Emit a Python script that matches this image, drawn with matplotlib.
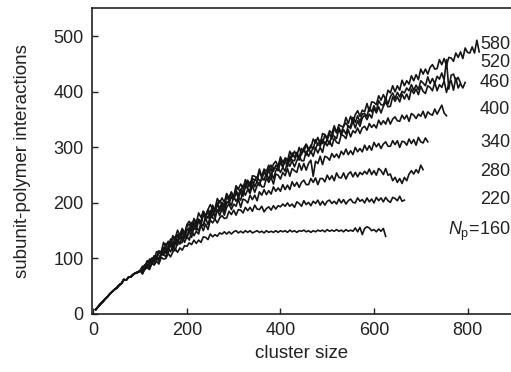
import matplotlib
matplotlib.use("Agg")
import matplotlib.pyplot as plt

plt.rcParams['font.family'] = ['Liberation Sans', 'DejaVu Sans']
plt.rcParams['mathtext.fontset'] = 'custom'
plt.rcParams['mathtext.rm'] = 'Liberation Sans'
plt.rcParams['mathtext.it'] = 'Liberation Sans:italic'

# cluster size grid (step 5)
cluster_size = list(range(5, 830, 5))

# shared initial rise (x = 5 .. 100)
early = [8, 13, 18, 22, 27, 31, 36, 40, 44, 47, 52, 55, 62, 61, 66, 67, 71, 74, 75, 78]

# values for x = 105 onward, per polymer count N_p
np580 = [86, 86, 96, 93, 101, 99, 112, 113, 112, 129,
         120, 131, 124, 140, 137, 151, 141, 154, 145, 161,
         167, 159, 170, 164, 182, 174, 185, 176, 188, 197,
         189, 190, 208, 200, 209, 201, 217, 209, 220, 211,
         231, 225, 234, 226, 242, 234, 232, 249, 248, 244,
         261, 247, 261, 257, 268, 257, 270, 275, 266, 283,
         273, 280, 275, 293, 283, 293, 285, 300, 287, 299,
         306, 298, 299, 315, 308, 318, 306, 325, 323, 317,
         330, 325, 339, 327, 341, 338, 337, 354, 343, 356,
         345, 359, 366, 356, 367, 364, 379, 365, 382, 381,
         377, 393, 385, 395, 386, 403, 398, 411, 400, 411,
         403, 421, 411, 420, 414, 429, 420, 431, 422, 441,
         432, 441, 432, 444, 449, 441, 442, 458, 449, 460,
         447, 462, 461, 455, 470, 462, 472, 460, 479, 471,
         470, 481, 470, 493, 472]
np520 = [80, 89, 85, 99, 97, 105, 102, 113, 111, 109,
         127, 126, 123, 141, 129, 143, 141, 153, 142, 157,
         162, 154, 172, 163, 171, 166, 185, 177, 188, 181,
         196, 184, 197, 204, 197, 198, 215, 208, 218, 207,
         226, 225, 219, 232, 228, 241, 229, 244, 241, 240,
         257, 246, 259, 247, 261, 268, 257, 268, 264, 279,
         264, 281, 279, 274, 290, 282, 291, 281, 298, 292,
         305, 294, 304, 297, 314, 304, 313, 307, 323, 313,
         325, 315, 335, 326, 336, 326, 339, 344, 337, 338,
         354, 345, 357, 345, 360, 361, 356, 372, 364, 375,
         365, 384, 377, 376, 389, 378, 391, 398, 388, 399,
         391, 401, 398, 407, 402, 413, 403, 412, 404, 420,
         416, 411, 427, 415, 424, 415, 428, 423, 434, 421,
         458, 405, 430, 432, 420, 426, 416]
np460 = [85, 80, 93, 95, 92, 102, 102, 113, 107, 120,
         118, 117, 135, 125, 139, 129, 143, 151, 141, 153,
         150, 165, 152, 169, 168, 164, 180, 174, 184, 175,
         192, 187, 201, 190, 201, 194, 212, 203, 212, 207,
         223, 214, 225, 216, 236, 228, 238, 228, 241, 247,
         240, 241, 257, 248, 260, 247, 263, 263, 258, 273,
         265, 276, 265, 284, 277, 276, 288, 277, 290, 297,
         286, 298, 290, 300, 298, 307, 302, 314, 305, 314,
         306, 323, 320, 316, 333, 322, 332, 324, 339, 334,
         347, 335, 348, 338, 353, 358, 350, 360, 353, 371,
         362, 373, 362, 374, 382, 373, 374, 391, 383, 391,
         382, 396, 387, 396, 386, 405, 397, 405, 395, 410,
         401, 397, 411, 408, 402, 417, 402, 413, 408, 420,
         399, 415, 420, 403, 425, 407, 415, 407, 417]
np400 = [79, 85, 84, 95, 92, 101, 97, 111, 108, 118,
         110, 123, 130, 123, 126, 142, 135, 147, 136, 152,
         153, 148, 165, 158, 169, 159, 179, 173, 173, 186,
         176, 189, 197, 187, 199, 191, 202, 200, 210, 206,
         219, 209, 219, 212, 229, 226, 222, 240, 229, 239,
         231, 246, 241, 254, 242, 254, 244, 258, 264, 255,
         264, 257, 275, 266, 276, 265, 276, 285, 276, 276,
         293, 284, 293, 284, 299, 290, 300, 291, 310, 303,
         311, 302, 317, 309, 307, 323, 321, 316, 332, 319,
         330, 326, 335, 325, 335, 338, 331, 343, 336, 341,
         335, 349, 341, 348, 342, 353, 342, 351, 355, 348,
         347, 358, 351, 358, 347, 361, 358, 352, 360, 356,
         365, 353, 364, 360, 358, 369, 360, 368, 376, 362,
         357]
np340 = [84, 80, 88, 86, 99, 95, 104, 99, 109, 118,
         110, 112, 130, 123, 132, 124, 141, 133, 145, 136,
         156, 150, 159, 151, 168, 161, 159, 176, 175, 171,
         188, 175, 188, 185, 196, 185, 199, 203, 195, 212,
         203, 210, 205, 223, 214, 224, 217, 231, 219, 231,
         237, 229, 229, 245, 237, 246, 234, 252, 250, 243,
         255, 249, 262, 248, 262, 258, 255, 271, 259, 271,
         259, 271, 277, 248, 275, 271, 284, 269, 284, 282,
         277, 289, 282, 288, 281, 293, 287, 297, 287, 294,
         287, 300, 292, 298, 292, 304, 295, 303, 295, 309,
         301, 307, 298, 306, 310, 302, 302, 312, 305, 312,
         300, 311, 310, 304, 315, 307, 314, 304, 318, 310,
         308, 317, 310]
np280 = [74, 85, 89, 85, 98, 94, 100, 98, 111, 106,
         117, 110, 126, 114, 127, 134, 127, 129, 146, 139,
         149, 138, 157, 156, 150, 163, 159, 173, 161, 176,
         173, 171, 188, 177, 190, 178, 192, 198, 188, 198,
         194, 207, 192, 207, 205, 200, 214, 206, 214, 204,
         220, 214, 224, 215, 222, 216, 229, 221, 227, 221,
         233, 224, 232, 224, 238, 230, 237, 228, 237, 241,
         233, 233, 244, 237, 245, 233, 244, 244, 238, 250,
         242, 249, 240, 254, 246, 245, 254, 243, 252, 256,
         247, 255, 247, 255, 251, 257, 252, 261, 251, 258,
         250, 262, 258, 251, 262, 250, 252, 240, 246, 237,
         244, 235, 246, 240, 252, 258, 252, 260, 254, 268,
         260]
np220 = [73, 83, 88, 83, 91, 92, 102, 95, 106, 107,
         103, 119, 112, 122, 114, 131, 126, 140, 129, 140,
         133, 150, 141, 149, 144, 160, 150, 162, 152, 169,
         164, 171, 164, 173, 177, 172, 173, 185, 179, 187,
         178, 188, 187, 182, 192, 186, 192, 185, 196, 189,
         188, 194, 184, 190, 193, 187, 195, 189, 195, 193,
         198, 194, 200, 194, 198, 192, 202, 199, 194, 204,
         197, 201, 195, 203, 199, 205, 196, 203, 196, 203,
         205, 199, 203, 198, 207, 200, 206, 198, 204, 207,
         201, 200, 209, 203, 206, 200, 209, 202, 207, 200,
         210, 204, 209, 202, 210, 204, 201, 210, 208, 204,
         212, 203, 205]
np160 = [72, 81, 83, 80, 91, 88, 95, 90, 102, 99,
         100, 109, 103, 112, 117, 111, 119, 115, 123, 122,
         128, 125, 133, 127, 133, 129, 139, 138, 134, 144,
         139, 143, 140, 146, 144, 148, 144, 148, 144, 148,
         150, 146, 149, 146, 150, 147, 150, 146, 148, 150,
         147, 149, 146, 150, 147, 149, 147, 150, 147, 150,
         148, 150, 147, 151, 148, 150, 147, 150, 149, 151,
         148, 150, 147, 150, 148, 151, 149, 151, 148, 152,
         149, 151, 149, 152, 149, 151, 148, 152, 149, 151,
         149, 155, 148, 156, 143, 154, 157, 155, 150, 152,
         148, 153, 149, 154, 140]

series = [np160, np220, np280, np340, np400, np460, np520, np580]
labels = [r'$N_{\rm p}$=160', '220', '280', '340', '400', '460', '520', '580']
label_y = [148, 207, 256, 308, 368, 416, 452, 485]

fig = plt.figure(figsize=(5.11, 3.72), dpi=100)
ax = fig.add_axes([92 / 511, 58 / 372, 419 / 511, 306 / 372])

for ys in series:
    vals = early + ys
    ax.plot(cluster_size[:len(vals)], vals, color='#151515', lw=1.2)

for lab, ly in zip(labels, label_y):
    ax.text(891, ly, lab, ha='right', va='center', fontsize=13, color='#222222')

ax.set_xlim(-3, 893)
ax.set_ylim(0, 551)
ax.set_xticks([0, 200, 400, 600, 800])
ax.set_yticks([0, 100, 200, 300, 400, 500])
ax.tick_params(direction='in', length=4, width=1, labelsize=13, colors='#222222', pad=6)
ax.spines['right'].set_visible(False)
for s in ['left', 'bottom', 'top']:
    ax.spines[s].set_linewidth(1.2)
    ax.spines[s].set_color('#222222')
ax.set_xlabel('cluster size', fontsize=13.5, color='#222222', labelpad=4)
ax.set_ylabel('subunit-polymer interactions', fontsize=13.5, color='#222222', labelpad=16)

fig.savefig('out.png', dpi=100)
